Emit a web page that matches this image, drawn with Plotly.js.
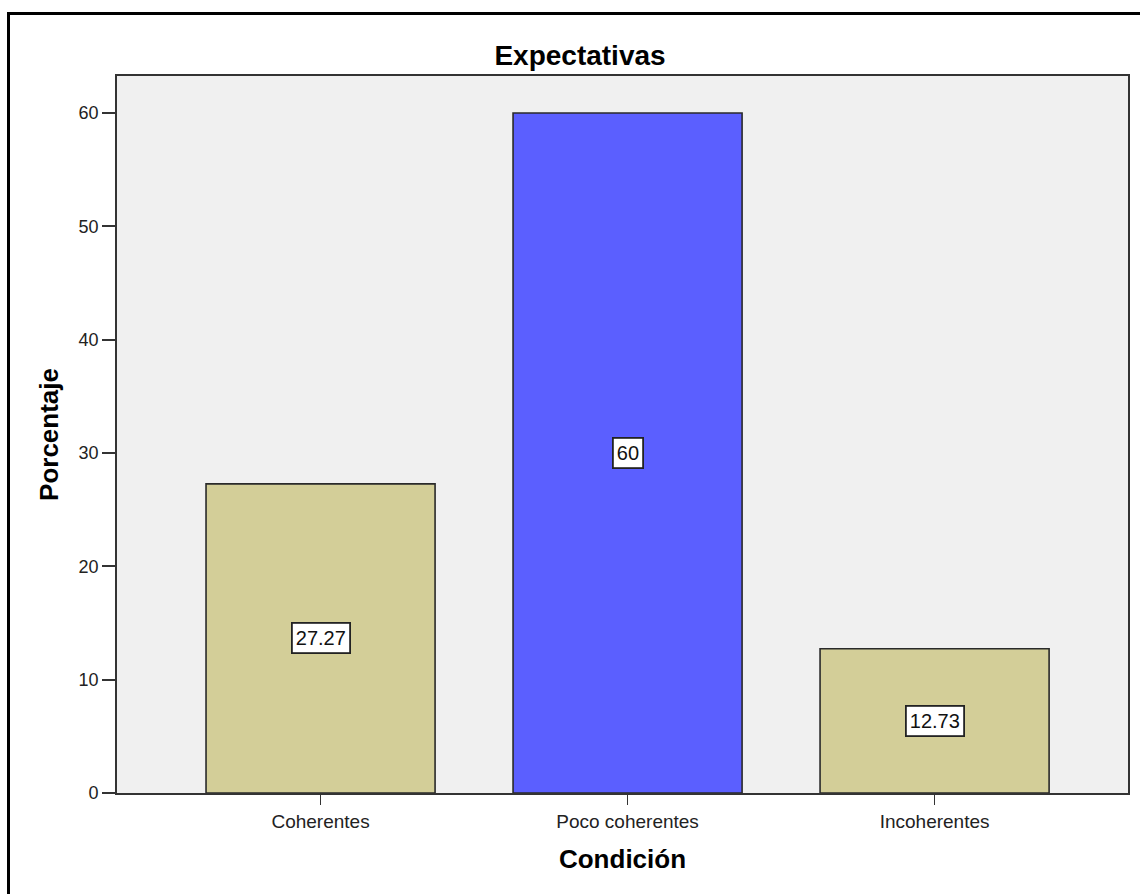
<!DOCTYPE html>
<html>
<head>
<meta charset="utf-8">
<script src="https://cdn.plot.ly/plotly-3.0.1.min.js"></script>
<style>
html,body{margin:0;padding:0;background:#fff;}
#wrap{position:relative;width:1140px;height:894px;overflow:hidden;}
#chart{position:absolute;left:0;top:0;width:1140px;height:894px;}
#frame{position:absolute;left:7px;top:12px;width:1140px;height:900px;border:3px solid #000;pointer-events:none;box-sizing:border-box;}
</style>
</head>
<body>
<div id="wrap"><div id="chart"></div><div id="frame"></div></div>
<script>
const categories = ["Coherentes", "Poco coherentes", "Incoherentes"];
const percentages = [27.27, 60, 12.73];
const labels = ["27.27", "60", "12.73"];
const barColors = ["#d3ce98", "#5b5fff", "#d3ce98"];
const yTicks = [0, 10, 20, 30, 40, 50, 60];

const font = "Liberation Sans, Arial, sans-serif";

const trace = {
  type: "bar",
  x: categories,
  y: percentages,
  width: 0.746,
  marker: {color: barColors, line: {color: "#2a2a2a", width: 1.6}},
  hoverinfo: "none"
};

const annotations = categories.map((c, i) => ({
  x: c, y: percentages[i] / 2, xref: "x", yref: "y",
  text: labels[i], showarrow: false,
  font: {family: font, size: 20, color: "#111"},
  bgcolor: "#ffffff", bordercolor: "#222", borderwidth: 1.8, borderpad: 3
}));

const layout = {
  width: 1140, height: 894,
  margin: {l: 117, r: 12, t: 76, b: 101},
  paper_bgcolor: "#ffffff",
  plot_bgcolor: "#f0f0f0",
  showlegend: false,
  title: {text: "<b>Expectativas</b>", font: {family: font, size: 28, color: "#000"},
          xref: "container", x: 580/1140, xanchor: "center", yref: "container", y: 1 - 55/894, yanchor: "middle"},
  xaxis: {
    type: "category", range: [-0.663, 2.630],
    showline: true, linecolor: "#333", linewidth: 1.8, mirror: true,
    ticks: "outside", ticklen: 10, tickwidth: 1.8, tickcolor: "#333",
    tickfont: {family: font, size: 19, color: "#222"},
    showgrid: false, zeroline: false,
    title: {text: "<b>Condición</b>", font: {family: font, size: 26, color: "#000"}, standoff: 19}
  },
  yaxis: {
    range: [0, 63.26], tickvals: yTicks, ticktext: yTicks.map(String),
    showline: true, linecolor: "#333", linewidth: 1.8, mirror: true,
    ticks: "outside", ticklen: 13, tickwidth: 1.8, tickcolor: "#333",
    tickfont: {family: font, size: 18, color: "#222"},
    showgrid: false, zeroline: false,
    title: {text: "<b>Porcentaje</b>", font: {family: font, size: 26, color: "#000"}, standoff: 12}
  },
  annotations: annotations
};

Plotly.newPlot("chart", [trace], layout, {displayModeBar: false, staticPlot: true});
</script>
</body>
</html>
